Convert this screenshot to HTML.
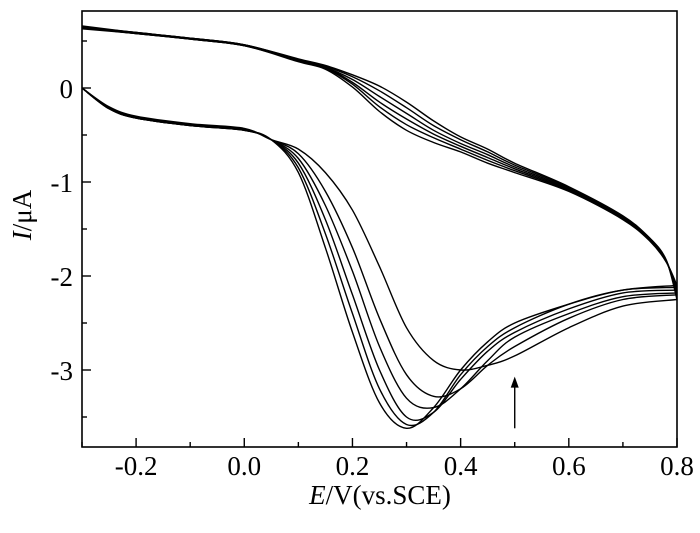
<!DOCTYPE html>
<html><head><meta charset="utf-8"><style>
html,body{margin:0;padding:0;background:#fff;}
svg{display:block;font-family:"Liberation Serif",serif;}
</style></head><body>
<svg id="chart" width="700" height="533" viewBox="0 0 700 533" xmlns="http://www.w3.org/2000/svg">
<g id="curves"></g>
<g id="axes"></g>
</svg>
<script>
const E_fwd = [-0.3,-0.25,-0.2,-0.1,0,0.05,0.1,0.15,0.2,0.25,0.3,0.35,0.4,0.45,0.5,0.6,0.7,0.8];
const I_fwd1 = [0,-0.22,-0.32,-0.4,-0.45,-0.55,-0.9,-1.7,-2.6,-3.35,-3.62,-3.4,-3.0,-2.7,-2.5,-2.3,-2.15,-2.1];
const I_fwd2 = [0,-0.22,-0.32,-0.4,-0.45,-0.55,-0.85,-1.55,-2.4,-3.2,-3.58,-3.45,-3.05,-2.75,-2.55,-2.3,-2.15,-2.12];
const I_fwd3 = [0,-0.22,-0.32,-0.4,-0.45,-0.55,-0.8,-1.4,-2.2,-3.0,-3.5,-3.45,-3.1,-2.8,-2.6,-2.35,-2.18,-2.15];
const I_fwd4 = [0,-0.21,-0.31,-0.39,-0.44,-0.55,-0.75,-1.25,-1.95,-2.75,-3.3,-3.4,-3.2,-2.9,-2.65,-2.4,-2.22,-2.18];
const I_fwd5 = [0,-0.21,-0.31,-0.39,-0.44,-0.55,-0.7,-1.1,-1.7,-2.45,-3.05,-3.28,-3.2,-2.95,-2.75,-2.45,-2.25,-2.2];
const I_fwd6 = [0,-0.2,-0.3,-0.38,-0.43,-0.55,-0.65,-0.9,-1.3,-1.9,-2.55,-2.9,-3.0,-2.95,-2.85,-2.55,-2.32,-2.25];
const E_rev = [0.8,0.78,0.75,0.7,0.6,0.5,0.45,0.4,0.35,0.3,0.25,0.2,0.15,0.1,0,-0.1,-0.2,-0.3];
const I_rev1 = [-2.1,-1.85,-1.63,-1.4,-1.1,-0.9,-0.8,-0.68,-0.58,-0.45,-0.25,0.01,0.2,0.28,0.45,0.52,0.58,0.63];
const I_rev2 = [-2.12,-1.85,-1.62,-1.39,-1.09,-0.88,-0.77,-0.65,-0.53,-0.39,-0.2,0.04,0.21,0.29,0.45,0.52,0.58,0.64];
const I_rev3 = [-2.15,-1.84,-1.62,-1.38,-1.08,-0.86,-0.74,-0.62,-0.49,-0.33,-0.15,0.06,0.22,0.29,0.45,0.52,0.58,0.64];
const I_rev4 = [-2.18,-1.84,-1.61,-1.37,-1.07,-0.84,-0.71,-0.59,-0.45,-0.27,-0.09,0.09,0.22,0.3,0.46,0.53,0.59,0.65];
const I_rev5 = [-2.2,-1.83,-1.6,-1.37,-1.06,-0.82,-0.68,-0.55,-0.4,-0.21,-0.03,0.12,0.23,0.3,0.46,0.53,0.59,0.65];
const I_rev6 = [-2.25,-1.83,-1.6,-1.36,-1.05,-0.8,-0.65,-0.52,-0.35,-0.15,0.02,0.14,0.24,0.31,0.46,0.53,0.59,0.66];
const xTicks = [-0.2,0.0,0.2,0.4,0.6,0.8];
const xTickLabels = ["-0.2","0.0","0.2","0.4","0.6","0.8"];
const yTicks = [0,-1,-2,-3];
const yTickLabels = ["0","-1","-2","-3"];
const arrowE = 0.5, arrowI0 = -3.62, arrowI1 = -3.07;

const X0=82,X1=677,Y0=11,Y1=447;
const xs = e => X0 + (e - (-0.3)) / 1.1 * (X1 - X0);
const ys = i => 88 - i * 94;
const NS="http://www.w3.org/2000/svg";
function mk(tag, attrs, parent){const el=document.createElementNS(NS,tag);for(const k in attrs)el.setAttribute(k,attrs[k]);parent.appendChild(el);return el;}
function smooth(pts){
  let d=`M${pts[0][0].toFixed(1)},${pts[0][1].toFixed(1)}`;
  for(let i=0;i<pts.length-1;i++){
    const p0=pts[Math.max(0,i-1)],p1=pts[i],p2=pts[i+1],p3=pts[Math.min(pts.length-1,i+2)];
    const c1=[p1[0]+(p2[0]-p0[0])/6,p1[1]+(p2[1]-p0[1])/6];
    const c2=[p2[0]-(p3[0]-p1[0])/6,p2[1]-(p3[1]-p1[1])/6];
    d+=` C${c1[0].toFixed(1)},${c1[1].toFixed(1)} ${c2[0].toFixed(1)},${c2[1].toFixed(1)} ${p2[0].toFixed(1)},${p2[1].toFixed(1)}`;
  }
  return d;
}
const curves=document.getElementById('curves');
const fw=[I_fwd1,I_fwd2,I_fwd3,I_fwd4,I_fwd5,I_fwd6];
const rv=[I_rev1,I_rev2,I_rev3,I_rev4,I_rev5,I_rev6];
for(let c=0;c<6;c++){
  const pf=E_fwd.map((e,i)=>[xs(e),ys(fw[c][i])]);
  const pr=E_rev.map((e,i)=>[xs(e),ys(rv[c][i])]);
  const p1=mk('path',{d:smooth(pf),fill:'none',stroke:'#000','stroke-width':1.4},curves);
  
  
  const p2=mk('path',{d:smooth(pr),fill:'none',stroke:'#000','stroke-width':1.4},curves);
  
  
}
const ax=document.getElementById('axes');
const fr=mk('rect',{x:X0,y:Y0,width:X1-X0,height:Y1-Y0,fill:'none',stroke:'#000','stroke-width':1.6},ax);


for(let v=-0.3;v<=0.81;v+=0.1){
  const major=xTicks.some(t=>Math.abs(t-v)<1e-6);
  const tk=mk('line',{x1:xs(v),x2:xs(v),y1:Y1,y2:Y1-(major?9:5),stroke:'#000','stroke-width':1.4},ax);
  
  
}
xTicks.forEach((t,i)=>{
  const tx=mk('text',{x:xs(t),y:475,'font-size':27,'text-anchor':'middle'},ax);
  tx.textContent=xTickLabels[i];
  
  
});
for(let v=0.5;v>=-3.51;v-=0.5){
  const major=yTicks.some(t=>Math.abs(t-v)<1e-6);
  const tk=mk('line',{x1:X0,x2:X0+(major?9:5),y1:ys(v),y2:ys(v),stroke:'#000','stroke-width':1.4},ax);
  
  
}
yTicks.forEach((t,i)=>{
  const tx=mk('text',{x:73,y:ys(t)+10,'font-size':27,'text-anchor':'end'},ax);
  tx.textContent=yTickLabels[i];
  
  
});
const xl=mk('text',{x:380,y:504,'font-size':27,'text-anchor':'middle'},ax);
xl.innerHTML='<tspan font-style="italic">E</tspan>/V(vs.SCE)';


const yl=mk('text',{x:0,y:0,'font-size':27,'text-anchor':'middle',transform:'translate(31,215) rotate(-90)'},ax);
yl.innerHTML='<tspan font-style="italic">I</tspan>/μA';


const ar=mk('line',{x1:xs(arrowE),x2:xs(arrowE),y1:ys(arrowI0),y2:ys(arrowI1)+8,stroke:'#000','stroke-width':1.4},ax);


const ah=mk('polygon',{points:`${xs(arrowE)},${ys(arrowI1)} ${xs(arrowE)-4},${ys(arrowI1)+11} ${xs(arrowE)+4},${ys(arrowI1)+11}`,fill:'#000'},ax);


</script>
</body></html>
